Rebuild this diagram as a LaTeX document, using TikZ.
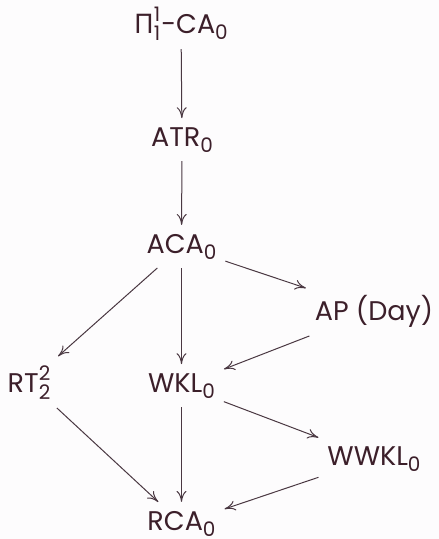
\documentclass[tikz,border=0pt]{standalone}
\usepackage{fontspec}
\setmainfont{Poppins}
\newfontfamily\grk{Noto Sans}
\usetikzlibrary{arrows.meta}
\definecolor{ink}{HTML}{3C1F2A}
\definecolor{wire}{HTML}{4A3842}
\definecolor{paper}{HTML}{FDFCFD}
% script-size digits for indices
\newcommand\scr{\fontsize{20}{20}\selectfont}
\newcommand\lo[1]{\raisebox{-6pt}{\scr #1}}
\newcommand\hi[1]{\raisebox{12pt}{\scr #1}}
\newcommand\both[2]{\rlap{\hi{#1}}\raisebox{-7pt}{\scr #2}}
\begin{document}
\begin{tikzpicture}[x=1pt,y=-1pt,
  lbl/.style={inner sep=0pt, outer sep=9pt, anchor=base, text=ink,
              font=\fontsize{27}{27}\selectfont},
  link/.style={draw=wire, line width=1pt, -{To[length=11pt,width=10pt]}}]
\fill[paper] (0,0) rectangle (439,539);
\useasboundingbox (0,0) rectangle (439,539);

\node[lbl] (pi)   at (181,33)   {{\grk Π}\both{1}{1}\kern1pt-CA\lo{0}};
\node[lbl] (atr)  at (182,146)  {ATR\lo{0}};
\node[lbl] (aca)  at (181.5,253){ACA\lo{0}};
\node[lbl] (ap)   at (374,320)  {AP (Day)};
\node[lbl] (rt)   at (29,392)   {RT\both{2}{2}};
\node[lbl] (wkl)  at (181.5,392){WKL\lo{0}};
\node[lbl] (wwkl) at (374,465)  {WWKL\lo{0}};
\node[lbl] (rca)  at (181.5,530){RCA\lo{0}};

\draw[link] (pi) -- (atr);
\draw[link] (atr) -- (aca);
\draw[link] (aca) -- (ap);
\draw[link] (aca) -- (rt);
\draw[link] (aca) -- (wkl);
\draw[link] (ap) -- (wkl);
\draw[link] (rt) -- (rca);
\draw[link] (wkl) -- (rca);
\draw[link] (wkl) -- (wwkl);
\draw[link] (wwkl) -- (rca);
\end{tikzpicture}
\end{document}
